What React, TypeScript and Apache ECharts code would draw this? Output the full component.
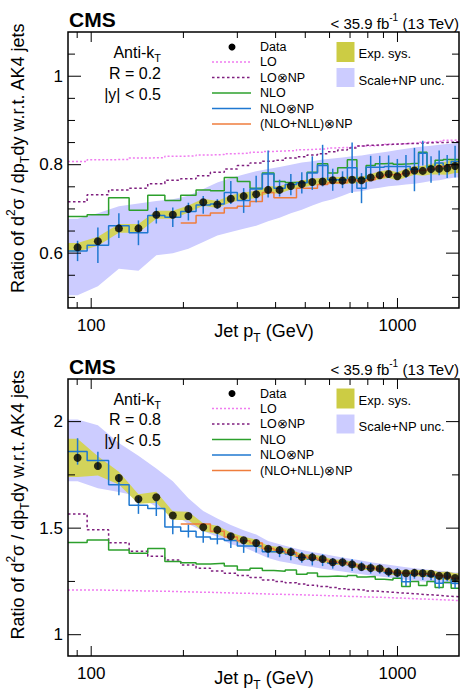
import { useEffect, useRef } from 'react';
import * as echarts from 'echarts';

const FONT = '"Liberation Sans", Arial, Helvetica, sans-serif';

// Jet pT bin edges (GeV)
const binEdges = [84, 97, 114, 133, 153, 174, 196, 220, 245, 272, 300, 330, 362, 395, 430, 468, 507, 548, 592, 638, 686, 737, 790, 846, 905, 967, 1032, 1101, 1172, 1248, 1327, 1410, 1497, 1588];

const xLabelValues = [100, 1000];
const xMajorTicks = [100, 1000];
const xMinorTicks = [90, 200, 300, 400, 500, 600, 700, 800, 900];

// (NLO+NLL)xNP curves start at this bin index
const nllFirstBin = 6;

// ---- R = 0.2 ----
const r02Data = [0.613, 0.627, 0.656, 0.656, 0.687, 0.687, 0.700, 0.715, 0.710, 0.723, 0.729, 0.733, 0.743, 0.743, 0.752, 0.756, 0.761, 0.762, 0.765, 0.764, 0.766, 0.765, 0.771, 0.776, 0.779, 0.774, 0.781, 0.787, 0.786, 0.790, 0.791, 0.792, 0.797];
const r02ExpSys = [0.010, 0.010, 0.010, 0.010, 0.009, 0.009, 0.008, 0.008, 0.008, 0.008, 0.008, 0.008, 0.008, 0.008, 0.008, 0.008, 0.008, 0.008, 0.008, 0.008, 0.008, 0.008, 0.008, 0.009, 0.009, 0.009, 0.010, 0.010, 0.011, 0.012, 0.013, 0.015, 0.016];
const r02LO = [0.807, 0.811, 0.812, 0.815, 0.816, 0.819, 0.820, 0.822, 0.823, 0.825, 0.826, 0.828, 0.830, 0.831, 0.832, 0.834, 0.835, 0.836, 0.838, 0.839, 0.840, 0.842, 0.843, 0.844, 0.846, 0.847, 0.848, 0.849, 0.851, 0.852, 0.853, 0.855, 0.856];
const r02LONP = [0.716, 0.732, 0.743, 0.747, 0.757, 0.765, 0.768, 0.775, 0.783, 0.790, 0.798, 0.804, 0.808, 0.810, 0.815, 0.818, 0.822, 0.825, 0.829, 0.833, 0.838, 0.842, 0.844, 0.845, 0.846, 0.847, 0.848, 0.848, 0.849, 0.850, 0.850, 0.851, 0.852];
const r02NLO = [0.683, 0.687, 0.725, 0.697, 0.731, 0.719, 0.731, 0.743, 0.741, 0.771, 0.762, 0.747, 0.781, 0.762, 0.760, 0.760, 0.783, 0.802, 0.781, 0.793, 0.811, 0.768, 0.798, 0.802, 0.803, 0.801, 0.802, 0.803, 0.828, 0.796, 0.810, 0.812, 0.812];
const r02NLONP = [0.605, 0.618, 0.662, 0.646, 0.685, 0.681, 0.694, 0.709, 0.711, 0.737, 0.719, 0.745, 0.779, 0.747, 0.755, 0.759, 0.781, 0.798, 0.766, 0.766, 0.793, 0.747, 0.794, 0.794, 0.796, 0.796, 0.796, 0.789, 0.826, 0.789, 0.804, 0.796, 0.807];
const r02NLONPErr = [0.023, 0.040, 0.028, 0.028, 0.018, 0.022, 0.020, 0.020, 0.011, 0.026, 0.028, 0.030, 0.053, 0.019, 0.024, 0.024, 0.038, 0.047, 0.025, 0.019, 0.057, 0.034, 0.026, 0.026, 0.025, 0.017, 0.026, 0.049, 0.028, 0.030, 0.028, 0.026, 0.036];
const r02NLL = [0.668, 0.685, 0.691, 0.702, 0.706, 0.717, 0.737, 0.725, 0.725, 0.747, 0.747, 0.755, 0.759, 0.759, 0.766, 0.762, 0.766, 0.772, 0.777, 0.777, 0.780, 0.785, 0.787, 0.790, 0.796, 0.797, 0.800];
const r02ScaleLo = [0.505, 0.525, 0.565, 0.560, 0.595, 0.600, 0.610, 0.625, 0.640, 0.648, 0.655, 0.662, 0.672, 0.680, 0.690, 0.698, 0.708, 0.716, 0.722, 0.730, 0.738, 0.740, 0.745, 0.748, 0.751, 0.753, 0.755, 0.757, 0.760, 0.763, 0.765, 0.768, 0.771];
const r02ScaleHi = [0.678, 0.690, 0.706, 0.712, 0.718, 0.722, 0.730, 0.745, 0.760, 0.770, 0.778, 0.785, 0.790, 0.795, 0.800, 0.805, 0.808, 0.812, 0.814, 0.816, 0.819, 0.821, 0.824, 0.827, 0.830, 0.833, 0.836, 0.839, 0.841, 0.843, 0.845, 0.847, 0.849];
const r02YRange = [0.476, 1.1];
const r02YLabels = [0.6, 0.8, 1];
const r02YMinorTicks = [0.5, 0.55, 0.65, 0.7, 0.75, 0.85, 0.9, 0.95, 1.05];

// ---- R = 0.8 ----
const r08Data = [1.830, 1.792, 1.735, 1.637, 1.645, 1.559, 1.557, 1.504, 1.492, 1.462, 1.443, 1.430, 1.403, 1.397, 1.388, 1.364, 1.363, 1.355, 1.340, 1.340, 1.330, 1.318, 1.313, 1.311, 1.296, 1.291, 1.288, 1.290, 1.288, 1.286, 1.276, 1.277, 1.266];
const r08ExpSys = [0.090, 0.045, 0.030, 0.022, 0.026, 0.020, 0.020, 0.019, 0.019, 0.018, 0.017, 0.016, 0.015, 0.015, 0.014, 0.014, 0.013, 0.013, 0.013, 0.012, 0.012, 0.012, 0.012, 0.012, 0.012, 0.013, 0.014, 0.015, 0.016, 0.017, 0.018, 0.020, 0.022];
const r08LO = [1.210, 1.209, 1.207, 1.205, 1.204, 1.202, 1.200, 1.199, 1.197, 1.195, 1.194, 1.192, 1.190, 1.189, 1.188, 1.186, 1.185, 1.183, 1.182, 1.180, 1.179, 1.177, 1.176, 1.175, 1.173, 1.172, 1.170, 1.168, 1.167, 1.165, 1.164, 1.162, 1.160];
const r08LONP = [1.567, 1.492, 1.432, 1.392, 1.368, 1.350, 1.327, 1.312, 1.299, 1.288, 1.278, 1.268, 1.257, 1.250, 1.244, 1.238, 1.232, 1.226, 1.221, 1.216, 1.212, 1.209, 1.205, 1.202, 1.199, 1.196, 1.194, 1.191, 1.188, 1.186, 1.183, 1.180, 1.178];
const r08NLO = [1.433, 1.444, 1.397, 1.382, 1.405, 1.343, 1.338, 1.332, 1.335, 1.322, 1.304, 1.312, 1.301, 1.298, 1.304, 1.284, 1.290, 1.273, 1.276, 1.273, 1.278, 1.271, 1.273, 1.260, 1.257, 1.265, 1.226, 1.250, 1.231, 1.250, 1.221, 1.245, 1.218];
const r08NLONP = [1.860, 1.818, 1.704, 1.607, 1.592, 1.506, 1.486, 1.459, 1.449, 1.442, 1.416, 1.416, 1.389, 1.389, 1.379, 1.363, 1.355, 1.350, 1.335, 1.340, 1.327, 1.320, 1.312, 1.308, 1.291, 1.290, 1.249, 1.285, 1.282, 1.275, 1.242, 1.273, 1.242];
const r08NLONPErr = [0.062, 0.040, 0.050, 0.040, 0.035, 0.035, 0.030, 0.028, 0.025, 0.035, 0.032, 0.030, 0.025, 0.025, 0.030, 0.025, 0.030, 0.028, 0.025, 0.022, 0.028, 0.022, 0.025, 0.022, 0.020, 0.022, 0.020, 0.022, 0.025, 0.020, 0.025, 0.022, 0.025];
const r08NLL = [1.520, 1.520, 1.485, 1.458, 1.441, 1.430, 1.405, 1.396, 1.385, 1.368, 1.360, 1.352, 1.342, 1.338, 1.330, 1.320, 1.315, 1.308, 1.298, 1.292, 1.288, 1.286, 1.284, 1.282, 1.278, 1.272, 1.265];
const r08ScaleLo = [1.720, 1.687, 1.670, 1.650, 1.600, 1.570, 1.520, 1.485, 1.460, 1.425, 1.410, 1.385, 1.360, 1.345, 1.335, 1.325, 1.318, 1.310, 1.302, 1.296, 1.290, 1.284, 1.278, 1.273, 1.268, 1.263, 1.258, 1.254, 1.250, 1.246, 1.242, 1.238, 1.234];
const r08ScaleHi = [2.010, 1.983, 1.900, 1.840, 1.780, 1.720, 1.640, 1.580, 1.545, 1.515, 1.490, 1.470, 1.440, 1.425, 1.410, 1.398, 1.388, 1.380, 1.370, 1.362, 1.355, 1.348, 1.340, 1.334, 1.328, 1.322, 1.316, 1.312, 1.308, 1.304, 1.300, 1.296, 1.292];
const r08YRange = [0.9, 2.2];
const r08YLabels = [1, 1.5, 2];
const r08YMinorTicks = [1.25, 1.75];

const COLORS = {
  lo: '#f07cf0',
  lonp: '#7f1f7f',
  nlo: '#2ca02c',
  nlonp: '#1f78d1',
  nll: '#ef7d3c',
  exp: '#cccc44',
  expBand: '#d3d35a',
  scale: '#ccccff',
};

const centers = binEdges.slice(0, -1).map((e, i) => Math.sqrt(e * binEdges[i + 1]));

function stepPoints(values: number[], first = 0) {
  const pts = values.map((v, i) => [binEdges[first + i], v]);
  pts.push([binEdges[first + values.length], values[values.length - 1]]);
  return pts;
}

function histSeries(p: number, name: string, values: number[], color: string, dash: any, z: number, first = 0) {
  return {
    name,
    type: 'line',
    xAxisIndex: p,
    yAxisIndex: p,
    data: stepPoints(values, first),
    step: 'end',
    symbol: 'none',
    showSymbol: false,
    silent: true,
    z,
    lineStyle: { color, width: 1.5, type: dash },
  };
}

function bandSeries(p: number, lo: number[], hi: number[], color: string, z: number) {
  const n = lo.length;
  const xs = [binEdges[0], ...centers, binEdges[binEdges.length - 1]];
  const los = [lo[0], ...lo, lo[n - 1]];
  const his = [hi[0], ...hi, hi[n - 1]];
  const data = xs.map((x, i) => [x, los[i], his[i]]);
  return {
    type: 'custom',
    xAxisIndex: p,
    yAxisIndex: p,
    z,
    silent: true,
    clip: true,
    data,
    encode: { x: 0, y: [1, 2] },
    renderItem: (params: any, api: any) => {
      if (params.dataIndex !== 0) return null;
      const upper = data.map((d) => api.coord([d[0], d[2]]));
      const lower = data.map((d) => api.coord([d[0], d[1]])).reverse();
      return {
        type: 'polygon',
        shape: { points: upper.concat(lower) },
        style: { fill: color },
      };
    },
  };
}

function errorBarSeries(p: number, values: number[], errs: number[], color: string, z: number) {
  return {
    type: 'custom',
    xAxisIndex: p,
    yAxisIndex: p,
    z,
    silent: true,
    data: values.map((v, i) => [centers[i], v - errs[i], v + errs[i]]),
    encode: { x: 0, y: [1, 2] },
    renderItem: (params: any, api: any) => {
      const a = api.coord([api.value(0), api.value(1)]);
      const b = api.coord([api.value(0), api.value(2)]);
      return {
        type: 'line',
        shape: { x1: a[0], y1: a[1], x2: b[0], y2: b[1] },
        style: { stroke: color, lineWidth: 1.5 },
      };
    },
  };
}

function xTickSeries(p: number, yRef: number) {
  const data = [...xMinorTicks.map((v) => [v, yRef, 0]), ...xMajorTicks.map((v) => [v, yRef, 1])];
  return {
    type: 'custom',
    xAxisIndex: p,
    yAxisIndex: p,
    z: 20,
    silent: true,
    data,
    encode: { x: 0, y: 1 },
    renderItem: (params: any, api: any) => {
      const cs = params.coordSys;
      const px = api.coord([api.value(0), api.value(1)])[0];
      const len = api.value(2) ? 10 : 6;
      const yb = cs.y + cs.height;
      const yt = cs.y;
      const st = { stroke: '#000', lineWidth: 1 };
      return {
        type: 'group',
        children: [
          { type: 'line', shape: { x1: px, y1: yb, x2: px, y2: yb - len }, style: st },
          { type: 'line', shape: { x1: px, y1: yt, x2: px, y2: yt + len }, style: st },
        ],
      };
    },
  };
}

function yTickSeries(p: number, majors: number[], minors: number[]) {
  const data = [...minors.map((v) => [100, v, 0]), ...majors.map((v) => [100, v, 1])];
  return {
    type: 'custom',
    xAxisIndex: p,
    yAxisIndex: p,
    z: 20,
    silent: true,
    data,
    encode: { x: 0, y: 1 },
    renderItem: (params: any, api: any) => {
      const cs = params.coordSys;
      const py = api.coord([api.value(0), api.value(1)])[1];
      const len = api.value(2) ? 13 : 7;
      const xl = cs.x;
      const xr = cs.x + cs.width;
      const st = { stroke: '#000', lineWidth: 1 };
      return {
        type: 'group',
        children: [
          { type: 'line', shape: { x1: xl, y1: py, x2: xl + len, y2: py }, style: st },
          { type: 'line', shape: { x1: xr, y1: py, x2: xr - len, y2: py }, style: st },
        ],
      };
    },
  };
}

function panelSeries(p: number, d: any) {
  return [
    bandSeries(p, d.scaleLo, d.scaleHi, COLORS.scale, 1),
    bandSeries(
      p,
      d.data.map((v: number, i: number) => v - d.expSys[i]),
      d.data.map((v: number, i: number) => v + d.expSys[i]),
      COLORS.expBand,
      2,
    ),
    histSeries(p, 'LO', d.lo, COLORS.lo, [2, 2], 3),
    histSeries(p, 'LO⊗NP', d.lonp, COLORS.lonp, [2.5, 2.5], 3),
    histSeries(p, 'NLO', d.nlo, COLORS.nlo, 'solid', 4),
    histSeries(p, 'NLO⊗NP', d.nlonp, COLORS.nlonp, 'solid', 5),
    histSeries(p, '(NLO+NLL)⊗NP', d.nll, COLORS.nll, 'solid', 5, nllFirstBin),
    errorBarSeries(p, d.nlonp, d.nlonpErr, COLORS.nlonp, 6),
    {
      name: 'Data',
      type: 'scatter',
      xAxisIndex: p,
      yAxisIndex: p,
      z: 8,
      silent: true,
      symbol: 'circle',
      symbolSize: 8,
      itemStyle: { color: '#000' },
      data: d.data.map((v: number, i: number) => [centers[i], v]),
    },
    xTickSeries(p, d.yRange[0]),
    yTickSeries(p, d.yLabels, d.yMinor),
  ];
}

const richSub = (size: number, lh: number) => ({
  main: { fontSize: size, fontFamily: FONT, fill: '#000', color: '#000', lineHeight: lh },
  sup: { fontSize: Math.round(size * 0.68), fontFamily: FONT, fill: '#000', color: '#000', lineHeight: Math.round(size * 0.75), verticalAlign: 'top' },
  sub: { fontSize: Math.round(size * 0.68), fontFamily: FONT, fill: '#000', color: '#000', lineHeight: Math.round(size * 0.75), verticalAlign: 'bottom' },
});

function txt(x: number, y: number, text: string, size: number, align: string, extra: any = {}) {
  return {
    type: 'text',
    x,
    y,
    silent: true,
    z: 50,
    ...extra,
    style: {
      text,
      fill: '#000',
      font: `${extra.bold ? 'bold ' : ''}${size}px ${FONT}`,
      align,
      textAlign: align,
      verticalAlign: 'middle',
      textVerticalAlign: 'middle',
      ...(extra.rich ? { rich: extra.rich } : {}),
    },
  };
}

function panelGraphics(dy: number, rText: string) {
  const g: any[] = [];
  g.push(txt(69, 19.5 + dy, 'CMS', 21, 'left', { bold: true }));
  g.push(txt(459, 23 + dy, '{main|< 35.9 fb}{sup|-1}{main| (13 TeV)}', 15, 'right', { rich: richSub(15, 22) }));
  g.push(txt(161, 52.5 + dy, '{main|Anti-k}{sub|T}', 16, 'right', { rich: richSub(16, 22) }));
  g.push(txt(161, 73 + dy, rText, 16, 'right'));
  g.push(txt(161, 94 + dy, '|y| < 0.5', 16, 'right'));
  g.push(
    txt(18, 158 + dy, '{main|Ratio of d}{sup|2}{main|σ / dp}{sub|T}{main|dy w.r.t. AK4 jets}', 18, 'center', {
      rotation: Math.PI / 2,
      rich: richSub(18, 26),
    }),
  );
  g.push(txt(264, 331 + dy, '{main|Jet p}{sub|T}{main| (GeV)}', 18, 'center', { rich: richSub(18, 26) }));

  // legend: markers and line samples
  const rows = [47, 62, 77.5, 93, 108.5, 124].map((v) => v + dy);
  const labels = ['Data', 'LO', 'LO⊗NP', 'NLO', 'NLO⊗NP', '(NLO+NLL)⊗NP'];
  const lineDefs: any[] = [
    null,
    { stroke: COLORS.lo, lineDash: [2, 2] },
    { stroke: COLORS.lonp, lineDash: [2.5, 2.5] },
    { stroke: COLORS.nlo },
    { stroke: COLORS.nlonp },
    { stroke: COLORS.nll },
  ];
  rows.forEach((y, i) => {
    if (i === 0) {
      g.push({ type: 'circle', silent: true, z: 50, shape: { cx: 232, cy: y, r: 3.5 }, style: { fill: '#000' } });
    } else {
      g.push({
        type: 'line',
        silent: true,
        z: 50,
        shape: { x1: 212, y1: y, x2: 251, y2: y },
        style: { lineWidth: 1.5, ...lineDefs[i] },
      });
    }
    g.push(txt(260, y, labels[i], 12.5, 'left'));
  });

  g.push({ type: 'rect', silent: true, z: 50, shape: { x: 336.5, y: 42 + dy, width: 18, height: 20 }, style: { fill: COLORS.exp } });
  g.push({ type: 'rect', silent: true, z: 50, shape: { x: 336.5, y: 68 + dy, width: 18, height: 19 }, style: { fill: COLORS.scale } });
  g.push(txt(358.5, 53.5 + dy, 'Exp. sys.', 13, 'left'));
  g.push(txt(358.5, 80 + dy, 'Scale+NP unc.', 13, 'left'));
  return g;
}

const panels = [
  {
    data: r02Data, expSys: r02ExpSys, lo: r02LO, lonp: r02LONP, nlo: r02NLO, nlonp: r02NLONP,
    nlonpErr: r02NLONPErr, nll: r02NLL, scaleLo: r02ScaleLo, scaleHi: r02ScaleHi,
    yRange: r02YRange, yLabels: r02YLabels, yMinor: r02YMinorTicks, rText: 'R = 0.2',
  },
  {
    data: r08Data, expSys: r08ExpSys, lo: r08LO, lonp: r08LONP, nlo: r08NLO, nlonp: r08NLONP,
    nlonpErr: r08NLONPErr, nll: r08NLL, scaleLo: r08ScaleLo, scaleHi: r08ScaleHi,
    yRange: r08YRange, yLabels: r08YLabels, yMinor: r08YMinorTicks, rText: 'R = 0.8',
  },
];

const gridBoxes = [
  { top: 32, height: 276 },
  { top: 379, height: 277 },
];
const panelShift = [0, 346.5];

export default function App() {
  const ref = useRef<HTMLDivElement>(null);

  useEffect(() => {
    if (!ref.current) return;
    const chart = echarts.init(ref.current, null, { renderer: 'svg' });
    const option: any = {
      animation: false,
      backgroundColor: '#fff',
      textStyle: { fontFamily: FONT },
      grid: gridBoxes.map((b) => ({
        left: 68,
        width: 391,
        top: b.top,
        height: b.height,
        show: true,
        borderColor: '#000',
        borderWidth: 1.5,
        backgroundColor: 'transparent',
        containLabel: false,
        outerBoundsMode: 'none',
        z: 30,
      })),
      xAxis: panels.map((_, i) => ({
        type: 'log',
        logBase: 10,
        gridIndex: i,
        min: binEdges[0],
        max: binEdges[binEdges.length - 1],
        axisLine: { show: false },
        axisTick: { show: false },
        splitLine: { show: false },
        minorTick: { show: false },
        axisLabel: {
          fontSize: 17,
          fontFamily: FONT,
          color: '#000',
          margin: 9,
          formatter: (v: number) => {
            const hit = xLabelValues.find((l) => Math.abs(l - v) < 1e-6 * l);
            return hit ? String(hit) : '';
          },
        },
      })),
      yAxis: panels.map((p, i) => ({
        type: 'value',
        gridIndex: i,
        min: p.yRange[0],
        max: p.yRange[1],
        axisLine: { show: false },
        axisTick: { show: false },
        splitLine: { show: false },
        axisLabel: {
          customValues: p.yLabels,
          fontSize: 17,
          fontFamily: FONT,
          color: '#000',
          margin: 5,
        },
      })),
      series: panels.flatMap((p, i) => panelSeries(i, p)),
      graphic: { elements: panels.flatMap((p, i) => panelGraphics(panelShift[i], p.rText)) },
    };
    chart.setOption(option);
    return () => chart.dispose();
  }, []);

  return (
    <div
      ref={ref}
      style={{ position: 'fixed', left: 0, top: 0, width: 468, height: 695, background: '#fff' }}
    />
  );
}
